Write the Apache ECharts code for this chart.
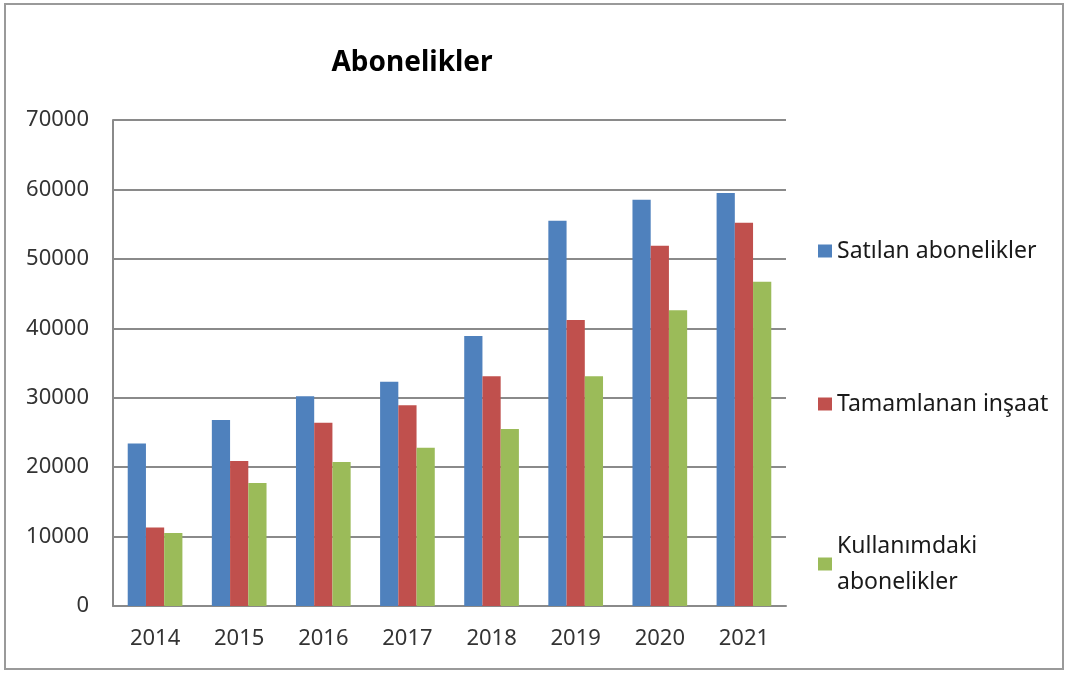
<!DOCTYPE html>
<html>
<head>
<meta charset="utf-8">
<style>
  html, body { margin: 0; padding: 0; background: #ffffff; }
  #chart { width: 1068px; height: 673px; }
</style>
<script src="https://cdn.jsdelivr.net/npm/echarts@6/dist/echarts.min.js"></script>
</head>
<body>
<div id="chart"></div>
<script>
const titleText = 'Abonelikler';
const categories = ['2014', '2015', '2016', '2017', '2018', '2019', '2020', '2021'];
const seriesNames = ['Satılan abonelikler', 'Tamamlanan inşaat', 'Kullanımdaki abonelikler'];
const satilan = [23400, 26800, 30200, 32300, 38900, 55500, 58500, 59500];
const tamamlanan = [11300, 20900, 26400, 28900, 33100, 41200, 51900, 55200];
const kullanimdaki = [10500, 17700, 20750, 22800, 25500, 33100, 42600, 46700];
const colors = ['#4F81BD', '#C0504D', '#9BBB59'];

const chart = echarts.init(document.getElementById('chart'), null, { renderer: 'canvas' });
const fontFamily = '"Noto Sans", "Open Sans", sans-serif';
const legendBase = {
  orient: 'vertical',
  left: 813,
  itemWidth: 14,
  itemHeight: 13,
  icon: 'rect',
  textStyle: { fontFamily: fontFamily, fontSize: 23, color: '#1a1a1a' }
};

chart.setOption({
  animation: false,
  backgroundColor: '#ffffff',
  color: colors,
  title: {
    text: titleText,
    left: 407,
    top: 44,
    textAlign: 'center',
    textStyle: { fontFamily: fontFamily, fontSize: 28, fontWeight: 'bold', color: '#000000' }
  },
  graphic: [{
    type: 'rect',
    shape: { x: 5, y: 4, width: 1058, height: 665 },
    style: { fill: 'none', stroke: '#9a9a9a', lineWidth: 2 },
    silent: true
  }],
  legend: [
    Object.assign({}, legendBase, {
      data: [seriesNames[0]], top: 232,
      textStyle: Object.assign({}, legendBase.textStyle, { lineHeight: 28 })
    }),
    Object.assign({}, legendBase, {
      data: [seriesNames[1]], top: 385,
      textStyle: Object.assign({}, legendBase.textStyle, { lineHeight: 28 })
    }),
    Object.assign({}, legendBase, {
      data: [seriesNames[2]], top: 523,
      formatter: function () { return 'Kullanımdaki\nabonelikler'; },
      textStyle: Object.assign({}, legendBase.textStyle, { lineHeight: 36 })
    })
  ],
  grid: { left: 113, right: 282, top: 120, bottom: 67, containLabel: false },
  xAxis: {
    type: 'category',
    data: categories,
    axisLine: { show: true, lineStyle: { color: '#8a8a8a', width: 2 } },
    axisTick: { show: false },
    axisLabel: { fontFamily: fontFamily, fontSize: 22, color: '#333333', margin: 22 },
    splitLine: { show: false }
  },
  yAxis: {
    type: 'value',
    min: 0,
    max: 70000,
    interval: 10000,
    axisLine: { show: true, lineStyle: { color: '#8a8a8a', width: 2 } },
    axisTick: { show: false },
    axisLabel: {
      fontFamily: fontFamily, fontSize: 22, color: '#333333', margin: 24,
      formatter: function (v) { return String(v); }
    },
    splitLine: { show: true, lineStyle: { color: '#8a8a8a', width: 2 } }
  },
  series: [
    { name: seriesNames[0], type: 'bar', data: satilan, barGap: '0%', barCategoryGap: '35%' },
    { name: seriesNames[1], type: 'bar', data: tamamlanan, barGap: '0%', barCategoryGap: '35%' },
    { name: seriesNames[2], type: 'bar', data: kullanimdaki, barGap: '0%', barCategoryGap: '35%' }
  ]
});
</script>
</body>
</html>
